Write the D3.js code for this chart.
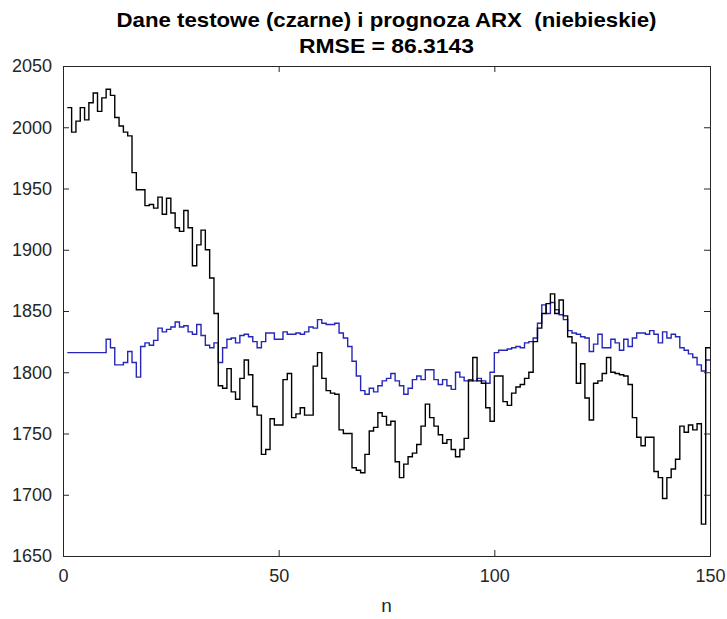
<!DOCTYPE html>
<html><head><meta charset="utf-8">
<script src="https://cdn.jsdelivr.net/npm/d3@7"></script>
<style>body{margin:0;background:#fff;} text{font-family:"Liberation Sans",Arial,Helvetica,sans-serif;}</style>
</head><body>
<svg id="chart" width="727" height="619"></svg>
<script>
const titleLines = ["Dane testowe (czarne) i prognoza ARX  (niebieskie)", "RMSE = 86.3143"];
const xLabel = "n";
const xTicks = [0, 50, 100, 150];
const yTicks = [1650, 1700, 1750, 1800, 1850, 1900, 1950, 2000, 2050];
// test data (black), one value per step n = 1..149
const testData = [2016,1996,2005,2016,2006,2020,2028,2013,2024,2031,2026,2008,2001,1996,1993,1963,1949,1949,1936,1937,
1934,1943,1929,1942,1930,1918,1915,1932,1918,1887,1904,1916,1900,1877,1848,1789,1787,1803,1784,1778,
1795,1810,1798,1772,1765,1733,1737,1762,1757,1757,1794,1799,1763,1766,1771,1765,1765,1805,1816,1795,
1785,1783,1782,1753,1750,1750,1722,1720,1718,1733,1752,1755,1767,1764,1757,1760,1727,1714,1725,1731,
1734,1741,1756,1774,1763,1756,1749,1742,1745,1737,1731,1737,1746,1793,1812,1793,1791,1771,1760,1797,
1797,1776,1773,1783,1788,1790,1795,1800,1825,1836,1848,1856,1864,1848,1859,1846,1829,1824,1791,1807,
1779,1761,1791,1793,1799,1812,1800,1799,1798,1797,1790,1763,1747,1740,1747,1747,1719,1714,1697,1714,
1721,1729,1756,1751,1757,1753,1758,1676,1820];
// ARX prediction (blue)
const arxForecast = [1816,1816,1816,1816,1816,1816,1816,1816,1816,1827,1820,1806,1806,1808,1817,1808,1796,1821,1824,1822,
1826,1836,1833,1835,1837,1841,1837,1838,1833,1831,1839,1830,1822,1820,1824,1808,1820,1827,1828,1824,
1830,1831,1829,1825,1820,1825,1832,1832,1827,1827,1833,1831,1831,1832,1831,1833,1837,1836,1843,1840,
1839,1839,1840,1832,1828,1821,1809,1797,1785,1782,1787,1784,1789,1793,1795,1799,1793,1789,1782,1787,
1794,1797,1794,1802,1802,1794,1790,1794,1789,1786,1800,1796,1793,1794,1793,1795,1793,1791,1800,1816,
1818,1818,1819,1820,1821,1820,1824,1825,1828,1840,1855,1848,1857,1851,1847,1843,1834,1832,1831,1829,
1828,1817,1823,1831,1820,1820,1827,1824,1818,1827,1821,1828,1832,1832,1831,1834,1831,1824,1833,1828,
1831,1829,1820,1818,1815,1812,1806,1801,1810];

const svg = d3.select("#chart");
const m = {left: 63, top: 66, right: 17, bottom: 63};
const W = 727 - m.left - m.right, H = 619 - m.top - m.bottom;
const g = svg.append("g").attr("transform", `translate(${m.left},${m.top})`);
const x = d3.scaleLinear().domain([0, 150]).range([0, W]);
const y = d3.scaleLinear().domain([1650, 2050]).range([H, 0]);
const axisColor = "#262626";

function pts(arr) {
  const p = arr.map((v, i) => [i + 1, v]);
  p.push([150, arr[arr.length - 1]]);
  return p;
}
const line = d3.line().x(d => x(d[0])).y(d => y(d[1])).curve(d3.curveStepAfter);

g.append("path").attr("d", line(pts(arxForecast))).attr("fill", "none").attr("stroke", "#2626b8").attr("stroke-width", 1.4);
g.append("path").attr("d", line(pts(testData))).attr("fill", "none").attr("stroke", "#000").attr("stroke-width", 1.4);

// axes (inward ticks, box)
const tl = 6;
const fmt = d3.format("d");
const ax = [
  d3.axisBottom(x).tickValues(xTicks).tickSize(-tl).tickPadding(13).tickFormat(fmt),
  d3.axisTop(x).tickValues(xTicks).tickSize(-tl).tickFormat(""),
  d3.axisLeft(y).tickValues(yTicks).tickSize(-tl).tickPadding(11).tickFormat(fmt),
  d3.axisRight(y).tickValues(yTicks).tickSize(-tl).tickFormat("")
];
const tr = [`translate(0,${H})`, `translate(0,0)`, `translate(0,0)`, `translate(${W},0)`];
ax.forEach((a, k) => {
  const s = g.append("g").attr("transform", tr[k]).call(a);
  s.select(".domain").attr("stroke", axisColor).attr("stroke-width", 1);
  s.selectAll(".tick line").attr("stroke", axisColor);
  s.selectAll(".tick text").attr("fill", axisColor).style("font-size", "18px");
});

svg.append("text").attr("x", m.left + W / 2).attr("y", 607).attr("text-anchor", "middle")
  .attr("dominant-baseline", "middle").style("font-size", "19px").attr("fill", axisColor).text(xLabel);

const titleWidths = [540, 175];
titleLines.forEach((t, k) => {
  svg.append("text").attr("x", m.left + W / 2).attr("y", 27 + k * 26).attr("text-anchor", "middle")
    .style("font-size", "21px").style("font-weight", "bold").style("white-space", "pre")
    .attr("textLength", titleWidths[k]).attr("lengthAdjust", "spacingAndGlyphs")
    .attr("fill", "#000").text(t);
});
</script>
</body></html>
